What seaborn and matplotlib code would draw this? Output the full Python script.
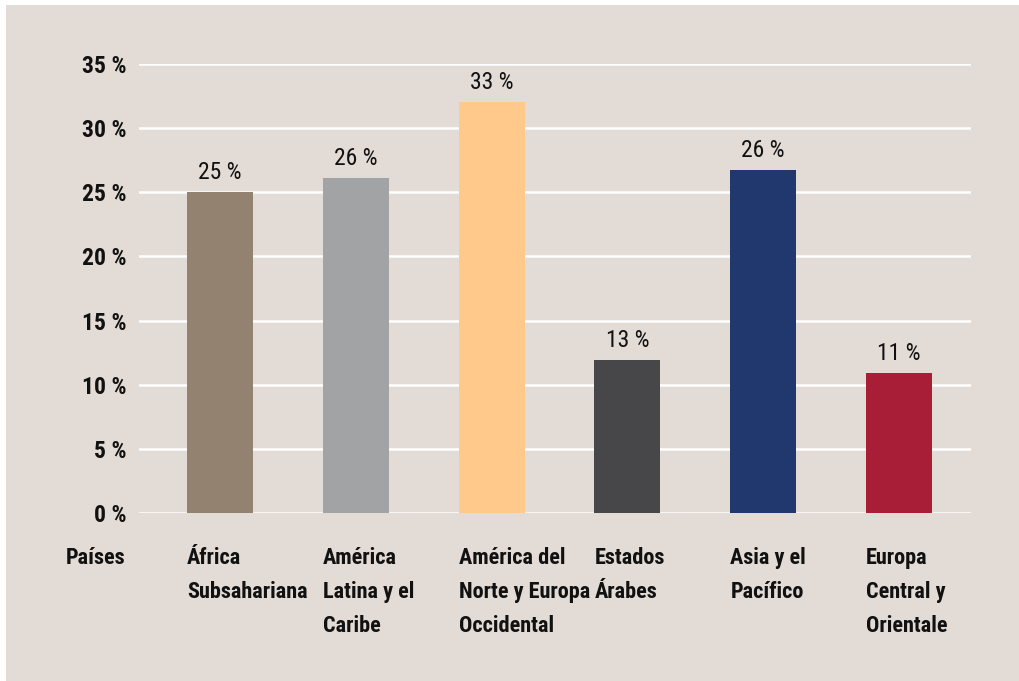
import matplotlib
matplotlib.use("Agg")
import matplotlib.pyplot as plt
import matplotlib.transforms as mtransforms
from matplotlib.patches import Rectangle
import seaborn as sns
import pandas as pd

# data
regiones = ["África\nSubsahariana", "América\nLatina y el\nCaribe",
            "América del\nNorte y Europa\nOccidental", "Estados\nÁrabes",
            "Asia y el\nPacífico", "Europa\nCentral y\nOrientale"]
valores = [25.0, 26.1, 32.0, 11.9, 26.7, 10.9]
etiquetas = ["25 %", "26 %", "33 %", "13 %", "26 %", "11 %"]
colores = ["#938270", "#a2a3a5", "#fec98a", "#474749", "#21386e", "#a81e36"]
yticks = [0, 5, 10, 15, 20, 25, 30, 35]

bg = "#e3dbd5"
ink = "#111111"

sns.set_style("white")
plt.rcParams["font.family"] = ["Roboto Condensed", "DejaVu Sans"]

df = pd.DataFrame({"region": regiones, "valor": valores})

fig = plt.figure(figsize=(10.2, 6.81), dpi=100, facecolor="white")
fig.patches.append(Rectangle((6 / 1020, 0), 1, 1 - 5 / 681, transform=fig.transFigure,
                             facecolor=bg, edgecolor="none", zorder=-5))
ax = fig.add_axes([139 / 1020, 168 / 681, 832 / 1020, 449 / 681])
ax.set_facecolor(bg)

sns.barplot(data=df, x="region", y="valor", hue="region", palette=colores,
            legend=False, width=0.485, saturation=1, linewidth=0, ax=ax, zorder=3)

ax.set_ylim(0, 35)
ax.set_xlim(-0.596, 5.53)
ax.set_yticks(yticks)
ax.set_yticklabels([f"{t} %" for t in yticks], fontsize=17, fontweight="bold", color=ink)
ax.yaxis.grid(True, color="white", linewidth=1.8, zorder=1)
ax.set_axisbelow(True)
ax.tick_params(axis="y", length=0, pad=9)
ax.set_xticks([])
ax.set_xlabel("")
ax.set_ylabel("")
for s in ax.spines.values():
    s.set_visible(False)

# value labels
for i, (v, t) in enumerate(zip(valores, etiquetas)):
    ax.annotate(t, (i, v), xytext=(0, 6), textcoords="offset points",
                ha="center", va="bottom", fontsize=17, color=ink)

# category labels, left aligned under each bar
trans = mtransforms.blended_transform_factory(ax.transData, ax.transAxes)
for i, r in enumerate(regiones):
    ax.text(i - 0.485 / 2, -0.075, r, transform=trans, ha="left", va="top",
            fontsize=16, fontweight="bold", color=ink, linespacing=1.72)
ax.text(-0.016, -0.075, "Países", transform=ax.transAxes, ha="right", va="top",
        fontsize=16, fontweight="bold", color=ink)

fig.savefig("out.png", dpi=100, facecolor=fig.get_facecolor())
